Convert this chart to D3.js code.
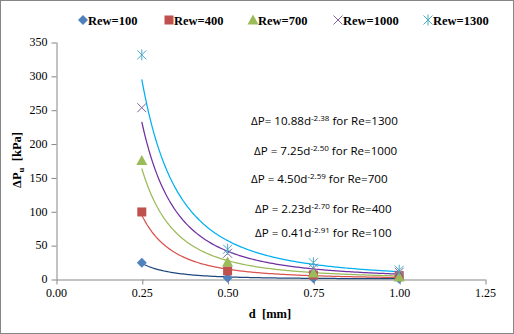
<!DOCTYPE html>
<html><head><meta charset="utf-8">
<script src="https://cdn.jsdelivr.net/npm/d3@7"></script>
<style>html,body{margin:0;padding:0;background:#fff;}svg{display:block;}</style>
</head><body>
<svg id="chart" width="514" height="334"></svg>
<script>
const diameters = [0.25, 0.5, 0.75, 1.0];
const seriesNames = ["Rew=100", "Rew=400", "Rew=700", "Rew=1000", "Rew=1300"];
const re100 = [24, 2, 1, 0.5];
const re400 = [99, 12, 6, 5];
const re700 = [175, 25, 9, 3];
const re1000 = [253, 38, 16, 10];
const re1300 = [331, 44, 24, 13];
const fitCoef = [0.41, 2.23, 4.50, 7.25, 10.88];
const fitExp = [-2.91, -2.70, -2.59, -2.50, -2.38];
const fitLabels = [
  {lead: "ΔP = 0.41d", sup: "-2.91", tail: " for Re=100"},
  {lead: "ΔP = 2.23d", sup: "-2.70", tail: " for Re=400"},
  {lead: "ΔP = 4.50d", sup: "-2.59", tail: " for Re=700"},
  {lead: "ΔP = 7.25d", sup: "-2.50", tail: " for Re=1000"},
  {lead: "ΔP= 10.88d", sup: "-2.38", tail: " for Re=1300"}
];
const xTicks = [0, 0.25, 0.5, 0.75, 1.0, 1.25];
const yTicks = [0, 50, 100, 150, 200, 250, 300, 350];

const allValues = [re100, re400, re700, re1000, re1300];
const markerColors = ["#4F81BD", "#C0504D", "#9BBB59", "#8064A2", "#4BACC6"];
const lineColors = ["#1F497D", "#D9534F", "#9BBB59", "#7030A0", "#00B0F0"];
const shapes = ["diamond", "square", "triangle", "cross", "asterisk"];

const svg = d3.select("#chart");
svg.append("rect").attr("x",0.5).attr("y",0.5).attr("width",513).attr("height",333)
  .attr("fill","#fff").attr("stroke","#868686").attr("stroke-width",1);

const x = d3.scaleLinear().domain([0,1.25]).range([56,485]);
const y = d3.scaleLinear().domain([0,350]).range([279,42]);

const axisColor = "#868686";
const xAxis = svg.append("g").attr("transform","translate(0,279.5)")
  .call(d3.axisBottom(x).tickValues(xTicks).tickFormat(d3.format(".2f")).tickSize(5).tickSizeOuter(0));
const yAxis = svg.append("g").attr("transform","translate(56.5,0)")
  .call(d3.axisLeft(y).tickValues(yTicks).tickFormat(d3.format("d")).tickSize(5).tickSizeOuter(0));
[xAxis, yAxis].forEach(g => {
  g.select(".domain").attr("stroke", axisColor);
  g.selectAll(".tick line").attr("stroke", axisColor);
  g.selectAll(".tick text").attr("fill","#000").style("font-family","'Liberation Serif', serif").style("font-size","12px");
});
xAxis.selectAll(".tick text").attr("dy","0.71em").attr("y",9);
yAxis.selectAll(".tick text").attr("x",-9);
xAxis.selectAll(".tick line").attr("transform","translate(0.5,0)");
yAxis.selectAll(".tick line").attr("transform","translate(0,0.5)");

// fit curves
const line = d3.line().x(d=>x(d[0])).y(d=>y(d[1]));
fitCoef.forEach((a,i)=>{
  const pts = d3.range(0.25, 1.0001, 0.005).map(d=>[d, a*Math.pow(d, fitExp[i])]);
  svg.append("path").datum(pts).attr("d", line).attr("fill","none")
    .attr("stroke", lineColors[i]).attr("stroke-width", 1.25);
});

function drawMarker(g, shape, color, cx, cy) {
  if (shape === "diamond") {
    g.append("path").attr("d", `M${cx},${cy-5}L${cx+5},${cy}L${cx},${cy+5}L${cx-5},${cy}Z`).attr("fill", color);
  } else if (shape === "square") {
    g.append("rect").attr("x",cx-4.5).attr("y",cy-4.5).attr("width",9).attr("height",9).attr("fill",color);
  } else if (shape === "triangle") {
    g.append("path").attr("d", `M${cx},${cy-5.5}L${cx+5.5},${cy+4.5}L${cx-5.5},${cy+4.5}Z`).attr("fill", color);
  } else if (shape === "cross") {
    g.append("path").attr("d", `M${cx-4.5},${cy-4.5}L${cx+4.5},${cy+4.5}M${cx+4.5},${cy-4.5}L${cx-4.5},${cy+4.5}`)
      .attr("stroke", color).attr("stroke-width",1).attr("fill","none");
  } else {
    g.append("path").attr("d", `M${cx-4.5},${cy-4.5}L${cx+4.5},${cy+4.5}M${cx+4.5},${cy-4.5}L${cx-4.5},${cy+4.5}M${cx},${cy-5.5}L${cx},${cy+5.5}`)
      .attr("stroke", color).attr("stroke-width",1).attr("fill","none");
  }
}

allValues.forEach((vals,i)=>{
  const g = svg.append("g");
  vals.forEach((v,j)=> drawMarker(g, shapes[i], markerColors[i], x(diameters[j]), y(v)));
});

// legend
const legendX = [83, 169, 253, 338, 428];
seriesNames.forEach((name,i)=>{
  const g = svg.append("g");
  drawMarker(g, shapes[i], markerColors[i], legendX[i], 20);
  g.append("text").attr("x", legendX[i]+5).attr("y", 24.5).text(name)
    .style("font-family","'Liberation Serif', serif").style("font-weight","bold").style("font-size","12.5px");
});

// fit labels
const labelPos = [[255,237],[255,213],[251,183],[254,155],[251,125]];
fitLabels.forEach((L,i)=>{
  const t = svg.append("text").attr("x", labelPos[i][0]).attr("y", labelPos[i][1])
    .style("font-family","'Open Sans', sans-serif").style("font-size","11.6px").attr("fill","#000");
  t.append("tspan").text(L.lead);
  t.append("tspan").text(L.sup).attr("dy",-4.5).style("font-size","8px");
  t.append("tspan").text(L.tail).attr("dy",4.5);
});

// axis titles
svg.append("text").attr("x",270).attr("y",318).attr("text-anchor","middle")
  .style("font-family","'Liberation Serif', serif").style("font-weight","bold").style("font-size","12.5px")
  .text("d\u00A0\u00A0[mm]");
const yt = svg.append("text").attr("transform","translate(21,160) rotate(-90)").attr("text-anchor","middle")
  .style("font-family","'Liberation Serif', serif").style("font-weight","bold").style("font-size","12.5px");
yt.append("tspan").text("ΔP");
yt.append("tspan").text("u").attr("dy",3).style("font-size","9px");
yt.append("tspan").text("\u00A0\u00A0[kPa]").attr("dy",-3);
</script>
</body></html>
